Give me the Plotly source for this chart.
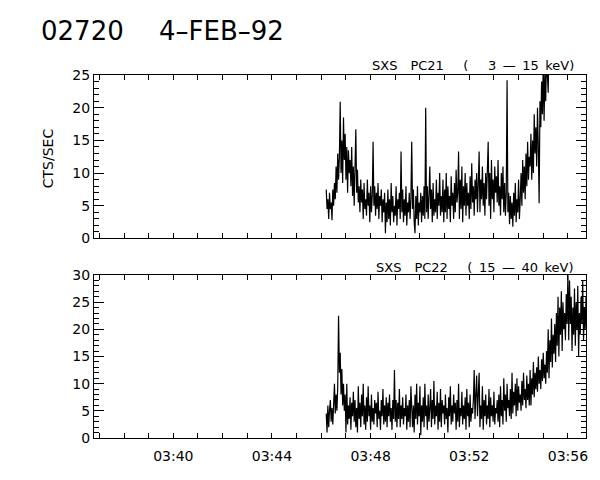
import datetime as dt
import plotly.graph_objects as go

# ---- data ----
t0 = "1992-02-04 03:46:12"   # first sample
cadence_s = 2                 # seconds between samples

pc21 = [7.5, 4.5, 6.0, 3.0, 7.0, 4.5, 5.5, 2.8, 7.5, 5.0,
        8.5, 6.0, 11.0, 7.0, 13.0, 9.0, 12.5,
        20.9, 10.0, 15.0, 8.5, 18.5, 12.0, 16.0, 9.0, 14.0, 7.0, 13.5, 10.0, 12.0,
        8.0, 14.0, 6.5, 11.0, 5.0, 9.5, 16.7, 7.0, 10.5, 5.5,
        8.0, 4.0, 9.0, 5.5, 7.5, 3.0, 8.5, 4.5, 6.0, 3.5, 9.0, 5.0, 7.0, 2.5, 8.0, 4.0, 6.5,
        14.8,
        5.0, 8.0, 3.5, 7.0, 4.5, 8.5, 3.0, 6.5, 5.0, 7.5, 2.5, 6.0,
        4.0, 7.0, 0.8, 5.5, 2.5, 7.5, 3.0, 6.0, 2.0, 8.5, 4.0, 6.5, 2.5, 5.0, 3.5,
        8.0, 2.0, 6.0, 4.5, 7.0, 3.0, 13.3, 4.0, 7.5, 2.5, 6.0, 3.5, 8.0, 2.0, 5.5,
        4.0, 7.0, 3.0, 6.0, 14.8, 4.5, 7.5, 2.5, 0.8, 6.5, 3.0, 8.0, 2.0, 5.5, 4.0,
        7.0, 2.5, 6.5, 3.5, 8.0, 3.0,
        20.0,
        4.0, 8.0, 3.0, 6.5, 11.0, 4.5, 7.5, 2.5, 8.5, 3.5, 6.0, 4.0, 9.0, 3.0, 7.0,
        5.0, 10.0, 3.5, 6.5,
        4.0, 9.0, 2.5, 7.5, 4.0, 10.0, 3.0, 8.0, 4.5, 6.5, 2.5, 9.5, 5.0, 7.0, 3.0,
        8.5, 4.0, 10.5, 5.5, 7.0, 13.3,
        3.0, 9.0, 4.5, 11.0, 2.5, 8.0, 5.0, 10.0, 3.5, 8.5, 5.0, 7.0, 3.0, 9.5, 4.5,
        11.5, 5.5, 8.0, 3.5, 9.0, 6.0, 10.0, 4.0, 8.5, 13.3,
        4.0, 9.0, 6.0, 11.0, 5.0, 8.5, 3.5, 10.0, 6.0, 12.0, 14.8, 5.0, 10.0, 3.0, 12.0,
        6.0, 9.0, 4.0, 11.0, 7.0, 9.5, 5.5, 12.0,
        5.0, 8.0, 3.5, 10.0, 6.0, 11.0, 4.0, 8.5, 3.5, 7.0,
        24.2,
        4.0, 7.0, 2.2, 6.5, 3.0, 5.5, 1.8, 7.0, 3.5, 8.5, 2.5, 6.0, 4.0, 9.0, 3.0,
        6.0, 10.0, 5.0, 12.0, 7.0, 11.0, 6.0, 13.0, 8.0, 14.8, 9.0, 12.5,
        11.0, 16.0, 9.0, 15.0, 10.0, 19.0, 13.0, 17.0, 11.0, 20.0, 14.0, 5.4,
        21.0, 17.0, 24.0, 19.0, 27.0, 18.0, 25.5, 21.0, 28.0, 24.0, 22.3,
        30.0, 27.0, 33.0, 28.0, 35.0, 30.0, 32.0, 29.0, 36.0, 31.0, 38.0, 33.0, 34.0,
        30.0, 40.0, 35.0, 37.0, 32.0, 39.0, 34.0, 41.0, 36.0, 38.0, 33.0, 42.0, 37.0,
        40.0, 35.0, 43.0, 38.0, 41.0, 36.0, 44.0, 39.0, 42.0, 37.0, 45.0, 40.0, 43.0,
        38.0, 46.0, 41.0, 44.0, 39.0, 47.0, 42.0, 45.0]

pc22 = [4.5, 1.0, 6.0, 2.0, 5.0, 7.0, 3.0, 5.5, 2.5, 6.5,
        10.0, 4.5, 8.0, 5.0, 9.5,
        22.5,
        12.0, 15.7, 8.0, 12.7, 6.0, 10.0,
        5.0, 8.0, 1.0, 10.0, 2.5, 6.0, 3.5, 7.5, 1.5, 6.5, 4.0, 8.5,
        3.0, 7.0, 2.0, 5.5, 1.0, 9.5, 3.5, 6.5, 2.0, 8.0, 4.0, 10.0, 2.5, 6.0, 1.5,
        7.5, 3.0, 9.5, 4.0, 6.0, 1.5, 8.0, 3.0, 5.5, 2.5, 7.0, 4.5, 6.5, 2.0, 8.5,
        3.5, 5.0, 1.5, 7.0, 4.0, 9.0, 2.5, 6.0, 3.0, 7.5, 2.0, 6.5, 4.0, 8.0, 3.0,
        5.5, 1.5, 7.0, 3.5, 12.5, 3.0, 7.0, 2.0, 6.5, 3.5, 9.0, 2.0, 6.0, 3.5, 7.5,
        2.5, 5.5, 4.0, 8.0, 1.5, 6.0, 3.0, 7.0, 2.0, 9.5, 4.0,
        2.0, 6.0, 1.0, 8.0, 3.5, 10.0, 2.5, 6.5, 4.0, 9.5, 0.5, 6.0, 3.0, 7.5, 2.0,
        10.0, 4.0, 6.0, 1.5, 8.0, 3.0, 5.5, 9.0, 2.0, 7.0, 3.5, 10.5, 2.5, 6.0, 4.0,
        8.5, 1.5, 6.5, 3.0, 9.0, 2.0, 7.0, 4.5, 6.0, 2.5, 8.0, 3.5, 5.5, 1.0, 7.5,
        4.0, 9.5, 2.5, 6.0, 3.0, 8.0, 4.5, 6.5, 1.5, 7.0, 3.0, 10.0, 2.0, 5.5, 4.0,
        8.5, 2.5, 6.0, 3.5, 7.5, 1.5, 9.0, 4.0, 6.5, 2.0, 8.0, 3.0, 5.5, 4.5, 7.0,
        12.5, 3.5, 8.0, 11.5, 4.0, 7.5, 12.0, 2.0, 6.0, 3.5, 9.5, 1.5, 7.0, 4.0, 8.0,
        2.5, 6.0, 3.5, 9.0, 2.0, 7.5, 4.0, 6.0, 3.0, 8.5, 2.5, 5.5, 4.5, 7.0, 3.0,
        8.0, 2.0, 9.5, 4.0, 7.0, 2.5, 11.0, 5.0, 8.0, 3.0, 10.0, 5.5, 7.0, 4.0, 9.0,
        3.5, 12.0, 4.5, 8.5, 6.0, 10.0, 4.0, 11.0, 5.0, 9.5, 6.5, 8.0, 5.0, 10.5, 6.0,
        12.0, 7.0, 9.0, 5.5, 11.5, 7.0, 10.0, 6.0,
        12.5, 6.0, 11.0, 8.0, 14.0, 7.5, 12.0, 9.0, 13.0, 8.5, 15.0, 10.0, 12.5, 9.0,
        14.5, 10.5, 15.7, 11.0, 13.5, 10.0, 16.0,
        12.0, 20.0, 11.0, 18.0, 14.0, 22.0, 13.0, 19.0, 15.5, 21.0, 14.0, 23.0,
        17.0, 26.0, 15.0, 24.0, 19.0, 27.0, 16.0, 25.0, 20.0, 23.0, 18.0, 26.5, 21.0,
        30.5, 18.0, 29.0, 21.0, 26.0, 16.0, 24.0, 19.0, 27.5, 17.0, 25.0, 20.0, 28.0,
        15.0, 23.0, 19.0, 26.0, 21.0, 29.0, 18.0, 24.0, 20.0, 26.0]

x_range = ["1992-02-04 03:36:47", "1992-02-04 03:56:44"]
minute_ticks = ["03:%02d" % m for m in range(37, 57)]
labelled = ["03:40", "03:44", "03:48", "03:52", "03:56"]

title_id = "02720"
title_date = "4\u2013FEB\u201392"
EM, EN = "\u2003", "\u2002"
label_top = "SXS" + EM + "PC21" + EM + EN + "(" + EM + EN + "3" + EN + "\u2014" + EN + "15" + EN + "keV)"
label_bot = "SXS" + EM + "PC22" + EM + EN + "(" + EN + "15" + EN + "\u2014" + EN + "40" + EN + "keV)"
y_title = "CTS/SEC"

# ---- build ----
start = dt.datetime.strptime(t0, "%Y-%m-%d %H:%M:%S")
t21 = [start + dt.timedelta(seconds=cadence_s * i) for i in range(len(pc21))]
t22 = [start + dt.timedelta(seconds=cadence_s * i) for i in range(len(pc22))]
tickvals = ["1992-02-04 %s:00" % m for m in minute_ticks]
ticktext = [m if m in labelled else "" for m in minute_ticks]

FONT = "DejaVu Sans"
fig = go.Figure()
fig.add_trace(go.Scatter(x=t21, y=pc21, mode="lines", line=dict(color="black", width=1.2),
                         xaxis="x", yaxis="y", showlegend=False))
fig.add_trace(go.Scatter(x=t22, y=pc22, mode="lines", line=dict(color="black", width=1.2),
                         xaxis="x2", yaxis="y2", showlegend=False))

xcommon = dict(type="date", range=x_range, tickmode="array", tickvals=tickvals,
               ticks="inside", ticklen=5, tickcolor="black", tickwidth=1,
               showline=True, linecolor="black", linewidth=1, mirror="allticks",
               showgrid=False, zeroline=False,
               tickfont=dict(family=FONT, size=14, color="black"))
ycommon = dict(ticks="inside", ticklen=10, tickcolor="black", tickwidth=1,
               showline=True, linecolor="black", linewidth=1, mirror="allticks",
               showgrid=False, zeroline=False, dtick=5, tick0=0,
               minor=dict(ticks="inside", ticklen=5, dtick=1, tickcolor="black", showgrid=False),
               tickfont=dict(family=FONT, size=14, color="black"))

fig.update_layout(
    width=600, height=480,
    margin=dict(l=94, r=12, t=75, b=42),
    paper_bgcolor="white", plot_bgcolor="white",
    xaxis=dict(xcommon, domain=[0, 1], anchor="y", ticktext=ticktext, showticklabels=False),
    yaxis=dict(ycommon, domain=[0.5496, 1], range=[0, 25], anchor="x"),
    xaxis2=dict(xcommon, domain=[0, 1], anchor="y2", ticktext=ticktext, showticklabels=True,
                ticklabelstandoff=5),
    yaxis2=dict(ycommon, domain=[0, 0.449], range=[0, 30], anchor="x2"),
    annotations=[
        dict(text=title_id, xref="paper", yref="paper", x=-0.111, y=1.121,
             xanchor="left", yanchor="middle", showarrow=False,
             font=dict(family=FONT, size=26, color="black")),
        dict(text=title_date, xref="paper", yref="paper", x=0.1275, y=1.121,
             xanchor="left", yanchor="middle", showarrow=False,
             font=dict(family=FONT, size=26, color="black")),
        dict(text=label_top, xref="paper", yref="paper", x=0.98, y=1.0248,
             xanchor="right", yanchor="middle", showarrow=False,
             font=dict(family=FONT, size=13, color="black")),
        dict(text=label_bot, xref="paper", yref="paper", x=0.98, y=0.471,
             xanchor="right", yanchor="middle", showarrow=False,
             font=dict(family=FONT, size=13, color="black")),
        dict(text=y_title, xref="paper", yref="paper", x=-0.092, y=0.77,
             xanchor="center", yanchor="middle", showarrow=False, textangle=-90,
             font=dict(family=FONT, size=14, color="black")),
    ],
)

fig.write_html("out.html", config={"displayModeBar": False},
               post_script="document.body.style.margin='0';")
